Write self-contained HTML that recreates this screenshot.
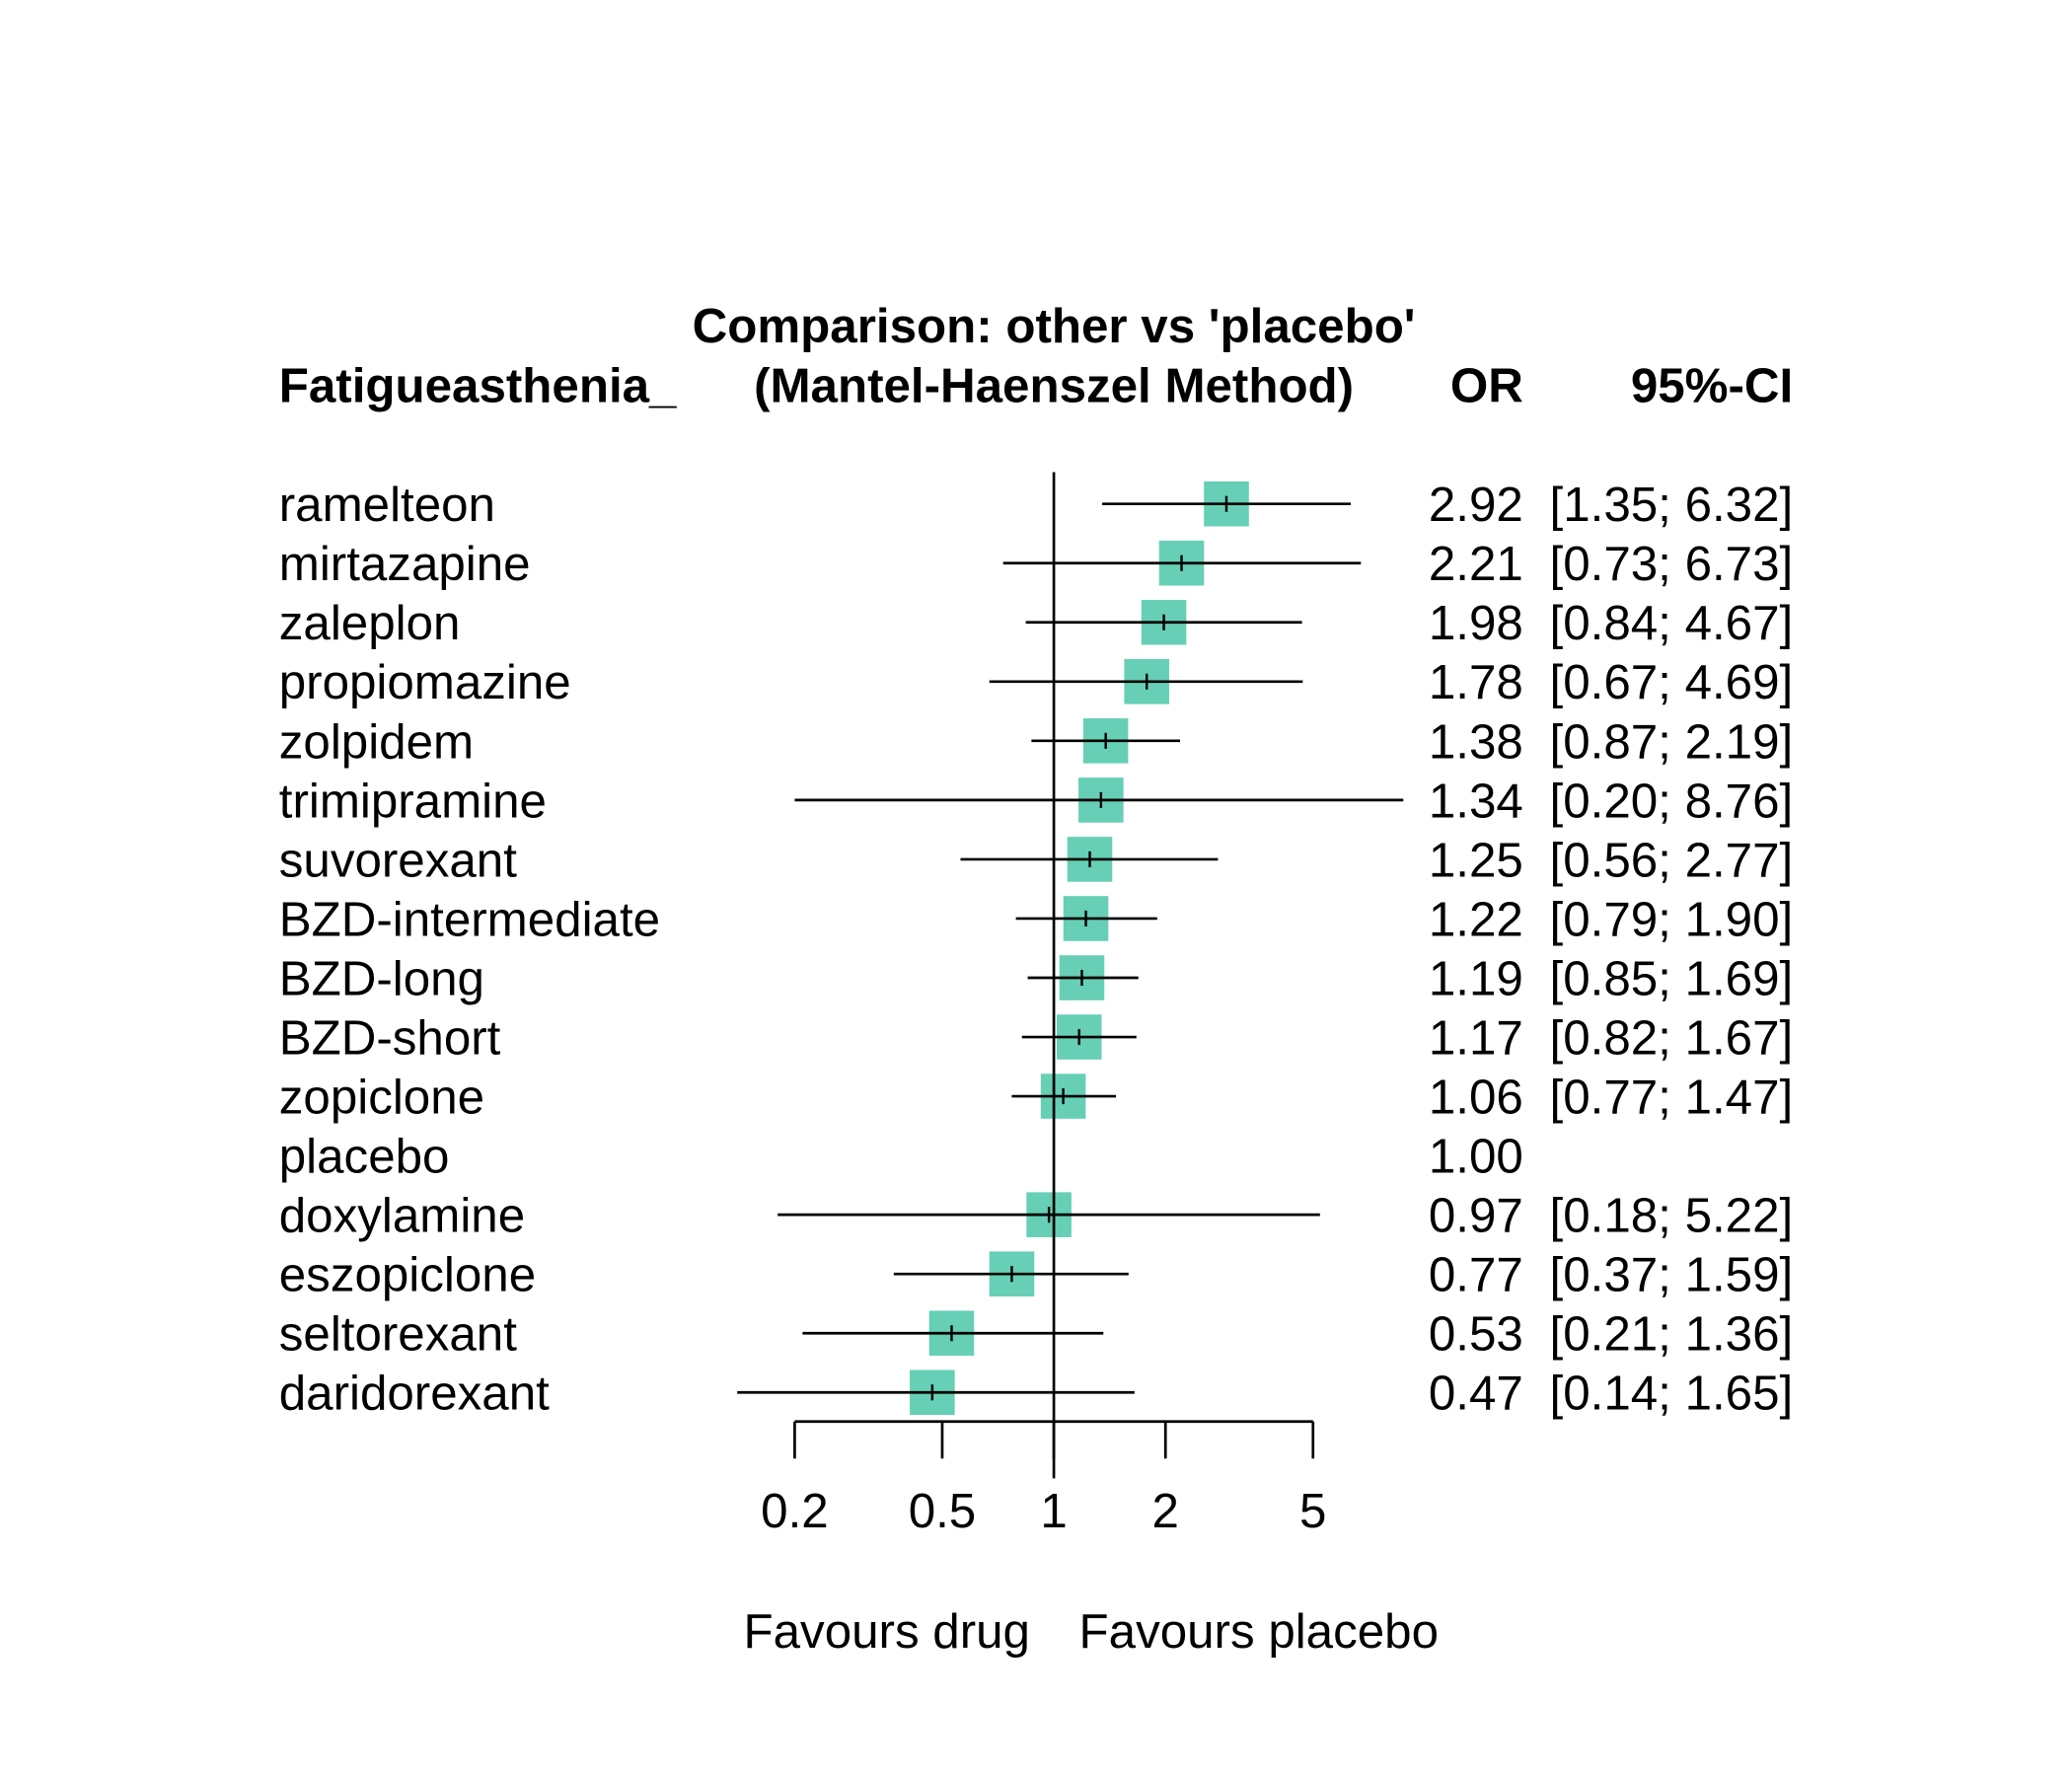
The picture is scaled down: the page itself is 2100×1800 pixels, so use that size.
<!DOCTYPE html>
<html><head><meta charset="utf-8"><style>
html,body{margin:0;padding:0;background:#fff}
svg{display:block}
text{font-family:"Liberation Sans",Arial,sans-serif;fill:#000}
</style></head><body>
<svg id="chart" width="2100" height="1800" viewBox="0 0 1567 1343" xmlns="http://www.w3.org/2000/svg">
<rect width="1567" height="1343" fill="#fff"/>
<g font-weight="bold" font-size="36.8">
<text x="797" y="259" text-anchor="middle">Comparison: other vs 'placebo'</text>
<text x="797" y="304" text-anchor="middle">(Mantel-Haenszel Method)</text>
<text x="211" y="304">Fatigueasthenia_</text>
<text x="1152" y="304" text-anchor="end">OR</text>
<text x="1356" y="304" text-anchor="end">95%-CI</text>
</g>
<g id="rows"></g>
<line x1="797" y1="357" x2="797" y2="1118" stroke="#000" stroke-width="2"/>
<g id="axis"></g>
<text x="779" y="1246" font-size="36.8" text-anchor="end">Favours drug</text>
<text x="816" y="1246" font-size="36.8">Favours placebo</text>
</svg>
<script>
const labels=["ramelteon","mirtazapine","zaleplon","propiomazine","zolpidem","trimipramine","suvorexant","BZD-intermediate","BZD-long","BZD-short","zopiclone","placebo","doxylamine","eszopiclone","seltorexant","daridorexant"];
const orVals=[2.92,2.21,1.98,1.78,1.38,1.34,1.25,1.22,1.19,1.17,1.06,1.00,0.97,0.77,0.53,0.47];
const lowerCI=[1.35,0.73,0.84,0.67,0.87,0.20,0.56,0.79,0.85,0.82,0.77,null,0.18,0.37,0.21,0.14];
const upperCI=[6.32,6.73,4.67,4.69,2.19,8.76,2.77,1.90,1.69,1.67,1.47,null,5.22,1.59,1.36,1.65];
const ticks=[0.2,0.5,1,2,5];
const tickLabels=["0.2","0.5","1","2","5"];
const NS="http://www.w3.org/2000/svg";
const x=v=>601+(Math.log(v)-Math.log(0.2))/(Math.log(5)-Math.log(0.2))*392;
const y=i=>381+i*44.8;
function mk(t,a,p){const e=document.createElementNS(NS,t);for(const k in a)e.setAttribute(k,a[k]);p.appendChild(e);return e;}
const rows=document.getElementById('rows');
labels.forEach((lab,i)=>{
 const g=mk('g',{},rows);
 
 
 const yy=y(i);
 const t=mk('text',{x:211,y:yy+13,'font-size':36.8},g);t.textContent=lab;
 
 
 const o=mk('text',{x:1152,y:yy+13,'font-size':36.8,'text-anchor':'end'},g);o.textContent=orVals[i].toFixed(2);
 
 
 if(lowerCI[i]!==null){
  const c=mk('text',{x:1356,y:yy+13,'font-size':36.8,'text-anchor':'end'},g);
  c.textContent='['+lowerCI[i].toFixed(2)+'; '+upperCI[i].toFixed(2)+']';
  
  
  const r=mk('rect',{x:x(orVals[i])-17,y:yy-17,width:34,height:34,fill:'#66CFB5'},g);
  
  
  const l=mk('line',{x1:x(lowerCI[i]),x2:x(upperCI[i]),y1:yy,y2:yy,stroke:'#000','stroke-width':2},g);
  
  
  const m=mk('line',{x1:x(orVals[i]),x2:x(orVals[i]),y1:yy-6,y2:yy+6,stroke:'#000','stroke-width':1.8},g);
  
  
 }
});
const ax=document.getElementById('axis');
const al=mk('line',{x1:x(ticks[0]),x2:x(ticks[ticks.length-1]),y1:1075,y2:1075,stroke:'#000','stroke-width':2},ax);


ticks.forEach((v,i)=>{
 const tk=mk('line',{x1:x(v),x2:x(v),y1:1075,y2:1103,stroke:'#000','stroke-width':2},ax);
 
 
 const tl=mk('text',{x:x(v),y:1155,'font-size':36.8,'text-anchor':'middle'},ax);tl.textContent=tickLabels[i];
 
 
});
</script>
</body></html>
